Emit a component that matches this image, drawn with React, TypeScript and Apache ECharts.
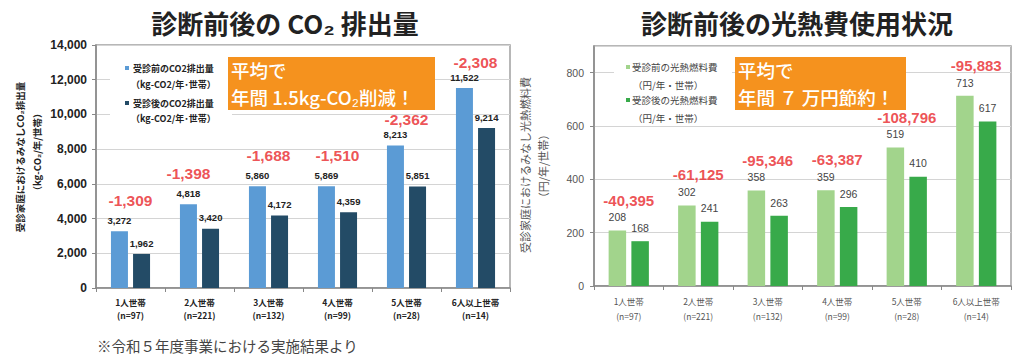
import React, { useEffect, useRef } from 'react';
import * as echarts from 'echarts';

const categories = ['1人世帯', '2人世帯', '3人世帯', '4人世帯', '5人世帯', '6人以上世帯'];
const sampleSizes = ['(n=97)', '(n=221)', '(n=132)', '(n=99)', '(n=28)', '(n=14)'];

const co2Before = [3272, 4818, 5860, 5869, 8213, 11522];
const co2After = [1962, 3420, 4172, 4359, 5851, 9214];
const co2Diff = [-1309, -1398, -1688, -1510, -2362, -2308];

const costBefore = [208, 302, 358, 359, 519, 713];
const costAfter = [168, 241, 263, 296, 410, 617];
const costDiff = [-40395, -61125, -95346, -63387, -108796, -95883];

const co2Ticks = { min: 0, max: 14000, interval: 2000 };
const costTicks = { min: 0, max: 900, interval: 200 };

const CJK = '"Noto Sans CJK JP", sans-serif';
const ARIAL = '"Liberation Sans", Arial, "Noto Sans CJK JP", sans-serif';

const C_BLUE = '#5B9BD5';
const C_NAVY = '#234B66';
const C_LGREEN = '#A2D48C';
const C_GREEN = '#38AA4A';
const C_RED = '#E8262A';
const C_ORANGE = '#F5921E';

export default function App() {
  const ref = useRef<HTMLDivElement>(null);
  useEffect(() => {
    const chart = echarts.init(ref.current!, null, { renderer: 'svg' });
    const fmt = (v: number) => v.toLocaleString('en-US');

    const txt = (x: number, y: number, text: string, style: any, extra: any = {}) => ({
      type: 'text',
      x,
      y,
      z: 20,
      ...extra,
      style: { text, verticalAlign: 'middle', align: 'left', ...style },
    });
    const rect = (x: number, y: number, w: number, h: number, fill: string, z = 15) => ({
      type: 'rect',
      z,
      shape: { x, y, width: w, height: h },
      style: { fill },
    });

    const legL = { fontFamily: CJK, fontSize: 9, fontWeight: 'bold', fill: '#222' };
    const legR = { fontFamily: CJK, fontSize: 9.5, fill: '#444' };
    const boxT = { fontFamily: CJK, fontSize: 18.5, fontWeight: 500, fill: '#fff' };

    // slight per-item label tweaks to mirror the reference placement
    const co2DiffData = co2Before.map((v, i) =>
      i === 1
        ? { value: v, label: { offset: [-11, 0] } }
        : i === 4
        ? { value: v, label: { distance: 18 } }
        : i === 5
        ? { value: v, label: { distance: 18 } }
        : v
    );

    chart.setOption({
      animation: false,
      backgroundColor: '#fff',
      title: [
        {
          text: '診断前後の CO₂ 排出量',
          left: 280,
          top: 4,
          textAlign: 'center',
          textStyle: { fontFamily: CJK, fontWeight: 'bold', fontSize: 26, color: '#222' },
        },
        {
          text: '診断前後の光熱費使用状況',
          left: 792,
          top: 4,
          textAlign: 'center',
          textStyle: { fontFamily: CJK, fontWeight: 'bold', fontSize: 26, color: '#222' },
        },
      ],
      grid: [
        { left: 96, top: 45, width: 414, height: 243, show: true, borderColor: '#a0a0a0', borderWidth: 1.5 },
        { left: 594, top: 46, width: 417, height: 240, show: true, borderColor: '#a0a0a0', borderWidth: 1.5 },
      ],
      xAxis: [
        {
          type: 'category',
          gridIndex: 0,
          data: categories,
          axisLine: { show: true, lineStyle: { color: '#888', width: 1.5 } },
          axisTick: { show: true, length: 4, lineStyle: { color: '#888' } },
          axisLabel: {
            margin: 7,
            interval: 0,
            formatter: (v: string, i: number) => `${v}\n${sampleSizes[i]}`,
            fontFamily: CJK,
            fontWeight: 'bold',
            fontSize: 8.5,
            lineHeight: 13.5,
            color: '#222',
          },
        },
        {
          type: 'category',
          gridIndex: 1,
          data: categories,
          axisLine: { show: true, lineStyle: { color: '#888', width: 1.5 } },
          axisTick: { show: true, length: 4, lineStyle: { color: '#888' } },
          axisLabel: {
            margin: 7,
            interval: 0,
            formatter: (v: string, i: number) => `${v}\n${sampleSizes[i]}`,
            fontFamily: CJK,
            fontSize: 8.5,
            lineHeight: 15,
            color: '#555',
          },
        },
      ],
      yAxis: [
        {
          type: 'value',
          gridIndex: 0,
          ...co2Ticks,
          axisLine: { show: true, lineStyle: { color: '#888', width: 1.5 } },
          axisTick: { show: true, length: 4, lineStyle: { color: '#888' } },
          axisLabel: { margin: 9, formatter: (v: number) => fmt(v), fontFamily: ARIAL, fontWeight: 'bold', fontSize: 12, color: '#222' },
          splitLine: { show: true, lineStyle: { color: '#d4d4d4', width: 1.2 } },
        },
        {
          type: 'value',
          gridIndex: 1,
          ...costTicks,
          axisLine: { show: true, lineStyle: { color: '#888', width: 1.5 } },
          axisTick: { show: true, length: 4, lineStyle: { color: '#888' } },
          axisLabel: { margin: 10, showMaxLabel: false, fontFamily: ARIAL, fontSize: 10.5, color: '#555' },
          splitLine: { show: true, lineStyle: { color: '#d4d4d4', width: 1.2 } },
        },
      ],
      series: [
        {
          name: '受診前のCO2排出量',
          type: 'bar',
          xAxisIndex: 0,
          yAxisIndex: 0,
          data: co2Before,
          barWidth: 17,
          barGap: '30%',
          itemStyle: { color: C_BLUE },
          label: {
            show: true,
            position: 'top',
            distance: 6,
            formatter: (p: any) => fmt(p.value),
            fontFamily: ARIAL,
            fontWeight: 'bold',
            fontSize: 9.5,
            color: '#222',
          },
        },
        {
          name: '受診後のCO2排出量',
          type: 'bar',
          xAxisIndex: 0,
          yAxisIndex: 0,
          data: co2After,
          barWidth: 17,
          barGap: '30%',
          itemStyle: { color: C_NAVY },
          label: {
            show: true,
            position: 'top',
            distance: 6,
            formatter: (p: any) => fmt(p.value),
            fontFamily: ARIAL,
            fontWeight: 'bold',
            fontSize: 9.5,
            color: '#222',
          },
        },
        {
          name: 'CO2削減量',
          type: 'scatter',
          xAxisIndex: 0,
          yAxisIndex: 0,
          data: co2DiffData,
          symbolSize: 0,
          silent: true,
          z: 5,
          label: {
            show: true,
            position: 'top',
            distance: 23,
            formatter: (p: any) => fmt(co2Diff[p.dataIndex]),
            fontFamily: ARIAL,
            fontWeight: 'bold',
            fontSize: 15.5,
            color: C_RED,
          },
        },
        {
          name: '受診前の光熱燃料費',
          type: 'bar',
          xAxisIndex: 1,
          yAxisIndex: 1,
          data: costBefore,
          barWidth: 17.5,
          barGap: '30%',
          itemStyle: { color: C_LGREEN },
          label: {
            show: true,
            position: 'top',
            distance: 8,
            fontFamily: ARIAL,
            fontSize: 10.5,
            color: '#444',
          },
        },
        {
          name: '受診後の光熱燃料費',
          type: 'bar',
          xAxisIndex: 1,
          yAxisIndex: 1,
          data: costAfter,
          barWidth: 17.5,
          barGap: '30%',
          itemStyle: { color: C_GREEN },
          label: {
            show: true,
            position: 'top',
            distance: 8,
            fontFamily: ARIAL,
            fontSize: 10.5,
            color: '#444',
          },
        },
        {
          name: '光熱費削減額',
          type: 'scatter',
          xAxisIndex: 1,
          yAxisIndex: 1,
          data: costBefore,
          symbolSize: 0,
          silent: true,
          z: 5,
          label: {
            show: true,
            position: 'top',
            distance: 23,
            formatter: (p: any) => fmt(costDiff[p.dataIndex]),
            fontFamily: ARIAL,
            fontWeight: 'bold',
            fontSize: 15,
            color: C_RED,
          },
        },
      ],
      graphic: [
        // left legend
        rect(110, 56, 122, 68, '#fff', 12),
        rect(125, 66, 4, 4, C_BLUE),
        txt(133, 68, '受診前のCO2排出量', legL),
        txt(131, 84, '（kg-CO2/年･世帯）', legL),
        rect(125, 101, 4, 4, C_NAVY),
        txt(133, 103, '受診後のCO2排出量', legL),
        txt(131, 118, '（kg-CO2/年･世帯）', legL),
        // right legend
        rect(614, 55, 118, 70, '#fff', 12),
        rect(626, 65, 4, 4, C_LGREEN),
        txt(632, 67, '受診前の光熱燃料費', legR),
        txt(633, 85, '（円/年・世帯）', legR),
        rect(626, 98, 4, 4, C_GREEN),
        txt(632, 100, '受診後の光熱燃料費', legR),
        txt(633, 118, '（円/年・世帯）', legR),
        // orange boxes
        rect(228, 57, 207, 53, C_ORANGE),
        txt(231, 70, '平均で', boxT),
        txt(231, 97, '年間 1.5kg-CO₂削減！', boxT),
        rect(735, 57, 171, 53, C_ORANGE),
        txt(738, 70, '平均で', boxT),
        txt(738, 97, '年間 ７ 万円節約！', boxT),
        // y axis names
        txt(20, 157, '受診家庭におけるみなしCO₂排出量', { fontFamily: CJK, fontSize: 9.5, fontWeight: 'bold', fill: '#222', align: 'center' }, { rotation: Math.PI / 2 }),
        txt(37, 152, '（kg-CO₂/年/世帯）', { fontFamily: CJK, fontSize: 9.5, fontWeight: 'bold', fill: '#222', align: 'center' }, { rotation: Math.PI / 2 }),
        txt(525, 165, '受診家庭におけるみなし光熱燃料費', { fontFamily: CJK, fontSize: 11, fill: '#555', align: 'center' }, { rotation: Math.PI / 2 }),
        txt(543, 166, '（円/年/世帯）', { fontFamily: CJK, fontSize: 11, fill: '#555', align: 'center' }, { rotation: Math.PI / 2 }),
        // note
        txt(97, 345, '※令和５年度事業における実施結果より', { fontFamily: CJK, fontSize: 14.5, fill: '#444' }),
      ],
    });
    return () => chart.dispose();
  }, []);
  return <div ref={ref} style={{ position: 'absolute', left: 0, top: 0, width: 1024, height: 356 }} />;
}
